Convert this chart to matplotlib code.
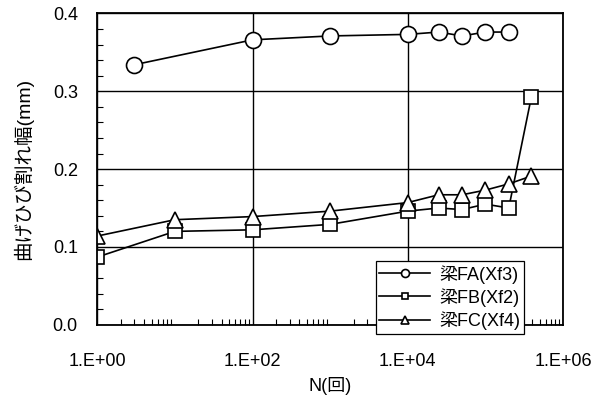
import matplotlib
matplotlib.use("Agg")
import matplotlib.pyplot as plt
from matplotlib.ticker import LogLocator, FixedLocator, MultipleLocator, NullFormatter

plt.rcParams['font.family'] = ['Liberation Sans', 'Noto Sans CJK JP']

# data
n_fa = [3, 100, 1000, 1e4, 2.5e4, 5e4, 1e5, 2e5]
w_fa = [0.334, 0.366, 0.371, 0.373, 0.376, 0.371, 0.376, 0.376]

n_fb = [1, 10, 100, 1000, 1e4, 2.5e4, 5e4, 1e5, 2e5, 3.9e5]
w_fb = [0.087, 0.120, 0.122, 0.129, 0.146, 0.150, 0.148, 0.155, 0.150, 0.292]

n_fc = [1, 10, 100, 1000, 1e4, 2.5e4, 5e4, 1e5, 2e5, 3.9e5]
w_fc = [0.114, 0.135, 0.139, 0.146, 0.157, 0.167, 0.167, 0.173, 0.181, 0.191]

labels = ["梁FA(Xf3)", "梁FB(Xf2)", "梁FC(Xf4)"]
xticks = [1, 1e2, 1e4, 1e6]
xticklabels = ["1.E+00", "1.E+02", "1.E+04", "1.E+06"]

fig = plt.figure(figsize=(6.08, 4.05), dpi=100)
ax = fig.add_axes([0.160, 0.198, 0.766, 0.769])

kw = dict(color="black", lw=1.2, mfc="white", mec="black", mew=1.2)
ax.plot(n_fa, w_fa, marker="o", ms=11.5, label=labels[0], **kw)
ax.plot(n_fb, w_fb, marker="s", ms=10, label=labels[1], **kw)
ax.plot(n_fc, w_fc, marker="^", ms=11.5, label=labels[2], **kw)

ax.set_xscale("log")
ax.set_xlim(1, 1e6)
ax.set_ylim(0, 0.4)
ax.xaxis.set_major_locator(FixedLocator(xticks))
ax.set_xticklabels(xticklabels)
ax.xaxis.set_minor_locator(LogLocator(base=10, subs=range(2, 10), numticks=20))
ax.xaxis.set_minor_formatter(NullFormatter())
ax.yaxis.set_major_locator(MultipleLocator(0.1))
ax.yaxis.set_minor_locator(MultipleLocator(0.02))
ax.yaxis.set_major_formatter(plt.FuncFormatter(lambda v, p: f"{v:.1f}"))

ax.grid(True, which="major", color="black", lw=1.0)
ax.tick_params(which="both", direction="in", labelsize=13, top=False, right=False)
ax.tick_params(which="major", length=0)
ax.tick_params(axis="x", which="major", pad=20)
ax.tick_params(axis="y", which="major", pad=14)
ax.tick_params(which="minor", length=4, width=0.8)
for s in ax.spines.values():
    s.set_color("black")
    s.set_linewidth(1.3)

ax.set_xlabel("N(回)", fontsize=13, labelpad=5)
ax.set_ylabel("曲げひび割れ幅(mm)", fontsize=14, labelpad=14)

leg = ax.legend(loc="upper left", bbox_to_anchor=(0.618, 0.355), bbox_transform=fig.transFigure,
                fontsize=13, frameon=True, fancybox=False, edgecolor="black",
                framealpha=1, handlelength=2.8, markerscale=0.5, borderpad=0.2,
                labelspacing=0.25, handletextpad=0.5, borderaxespad=0)
leg.get_frame().set_linewidth(0.9)
leg.set_zorder(5)

fig.savefig("out.png", dpi=100)
